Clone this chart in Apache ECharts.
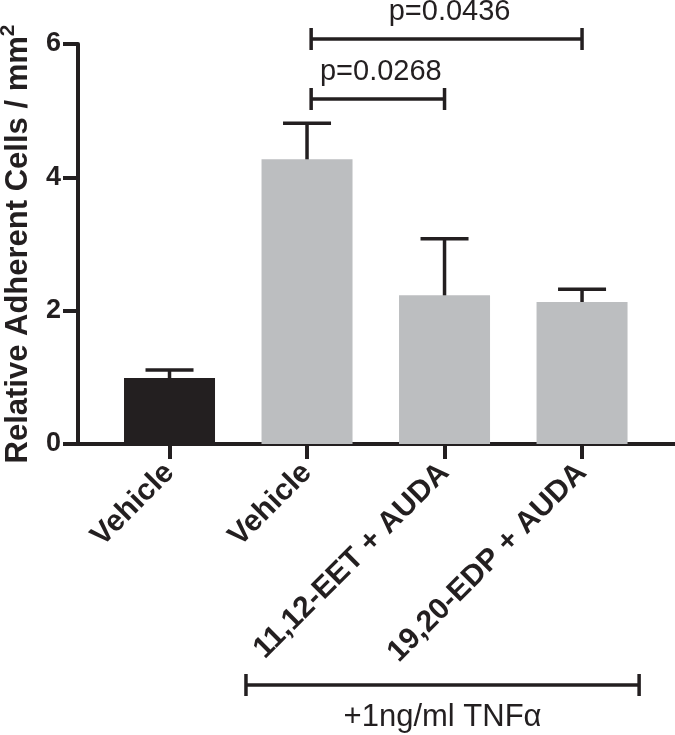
<!DOCTYPE html>
<html>
<head>
<meta charset="utf-8">
<script src="https://cdn.jsdelivr.net/npm/echarts@6/dist/echarts.min.js"></script>
<style>
html,body{margin:0;padding:0;background:#fff;}
#chart{width:675px;height:735px;}
</style>
</head>
<body>
<div id="chart"></div>
<script>
// ---- data ----
const categories = ['Vehicle', 'Vehicle', '11,12-EET + AUDA', '19,20-EDP + AUDA'];
const means = [0.99, 4.27, 2.23, 2.13];
const errors = [0.12, 0.54, 0.85, 0.19];
const barColors = ['#231f20', '#bcbec0', '#bcbec0', '#bcbec0'];
const yTicks = [0, 2, 4, 6];
// significance brackets: [from category, to category, height, label]
const sigBrackets = [
  [1.03, 2.0, 5.175, 'p=0.0268'],
  [1.03, 3.0, 6.075, 'p=0.0436']
];
// treatment group bracket: [from, to, height, label]
const groupBrackets = [
  [0.556, 3.415, -3.615, '+1ng/ml TNF\u03b1']
];

const INK = '#231f20';
const FONT = '"Liberation Sans", Arial, Helvetica, sans-serif';

const chart = echarts.init(document.getElementById('chart'), null, {renderer: 'canvas'});

const barData = means.map((m, i) => [i, m, i]);
const errData = means.map((m, i) => [i, m, errors[i]]);

function bracketRender(list, above, fontSize) {
  return function (params, api) {
    const p1 = api.coord([api.value(0), api.value(2)]);
    const p2 = api.coord([api.value(1), api.value(2)]);
    const label = list[params.dataIndex][3];
    const y = p1[1];
    const cap = 11;
    const st = {stroke: INK, lineWidth: 3.5};
    const mid = (p1[0] + p2[0]) / 2;
    return {
      type: 'group',
      children: [
        {type: 'line', shape: {x1: p1[0], y1: y, x2: p2[0], y2: y}, style: st},
        {type: 'line', shape: {x1: p1[0], y1: y - cap, x2: p1[0], y2: y + cap}, style: st},
        {type: 'line', shape: {x1: p2[0], y1: y - cap, x2: p2[0], y2: y + cap}, style: st},
        {type: 'text', x: mid + (above ? 3 : 0), y: above ? y - 27 : y + 32,
          style: {text: label, fill: INK, font: fontSize + 'px ' + FONT, textAlign: 'center', textVerticalAlign: 'middle'}}
      ]
    };
  };
}

const option = {
  animation: false,
  backgroundColor: '#ffffff',
  grid: {left: 78, right: 0, top: 44, bottom: 291, containLabel: false, outerBoundsMode: 'none'},
  xAxis: {
    type: 'value',
    min: -0.6655,
    max: 3.676,
    splitLine: {show: false},
    axisLine: {show: true, onZero: true, lineStyle: {color: INK, width: 4}},
    axisTick: {show: true, customValues: [0, 1, 2, 3], length: 15, lineStyle: {color: INK, width: 4}},
    axisLabel: {
      show: true,
      customValues: [0, 1, 2, 3],
      formatter: v => categories[Math.round(v)],
      rotate: 45,
      margin: 24,
      color: INK,
      fontWeight: 'bold',
      fontSize: 30,
      fontFamily: FONT
    }
  },
  yAxis: {
    type: 'value',
    min: 0,
    max: 6,
    interval: 2,
    name: '{a|Relative Adherent Cells / mm}{s|2}',
    nameLocation: 'middle',
    nameGap: 44,
    nameTextStyle: {
      color: INK, fontWeight: 'bold', fontSize: 31, fontFamily: FONT,
      rich: {
        a: {color: INK, fontWeight: 'bold', fontSize: 31, fontFamily: FONT, lineHeight: 36, verticalAlign: 'bottom'},
        s: {color: INK, fontWeight: 'bold', fontSize: 21, fontFamily: FONT, lineHeight: 36, verticalAlign: 'top'}
      }
    },
    splitLine: {show: false},
    axisLine: {show: true, onZero: false, lineStyle: {color: INK, width: 4}},
    axisTick: {show: true, length: 15, lineStyle: {color: INK, width: 4}},
    axisLabel: {
      color: INK, fontWeight: 'bold', fontSize: 27, fontFamily: FONT, margin: 17,
      padding: [6, 0, 0, 0],
      formatter: v => (yTicks.indexOf(v) >= 0 ? String(v) : '')
    }
  },
  series: [
    {
      type: 'custom',
      data: barData,
      z: 1,
      renderItem: function (params, api) {
        const x = api.value(0), m = api.value(1), ci = api.value(2);
        const b = api.coord([x, 0]);
        const t = api.coord([x, m]);
        const w = 91;
        return {
          type: 'rect',
          shape: {x: b[0] - w / 2, y: t[1], width: w, height: b[1] - t[1]},
          style: {fill: barColors[ci]}
        };
      }
    },
    {
      type: 'custom',
      data: errData,
      z: 3,
      renderItem: function (params, api) {
        const x = api.value(0), m = api.value(1), e = api.value(2);
        const b = api.coord([x, m]);
        const t = api.coord([x, m + e]);
        const hw = 24;
        const st = {stroke: INK, lineWidth: 3.5};
        return {
          type: 'group',
          children: [
            {type: 'line', shape: {x1: b[0], y1: b[1], x2: t[0], y2: t[1]}, style: st},
            {type: 'line', shape: {x1: t[0] - hw, y1: t[1], x2: t[0] + hw, y2: t[1]}, style: st}
          ]
        };
      }
    },
    {
      type: 'custom',
      data: sigBrackets.map(d => [d[0], d[1], d[2]]),
      z: 3,
      clip: false,
      renderItem: bracketRender(sigBrackets, true, 29)
    },
    {
      type: 'custom',
      data: groupBrackets.map(d => [d[0], d[1], d[2]]),
      z: 3,
      clip: false,
      renderItem: bracketRender(groupBrackets, false, 31)
    }
  ]
};
chart.setOption(option);
</script>
</body>
</html>
